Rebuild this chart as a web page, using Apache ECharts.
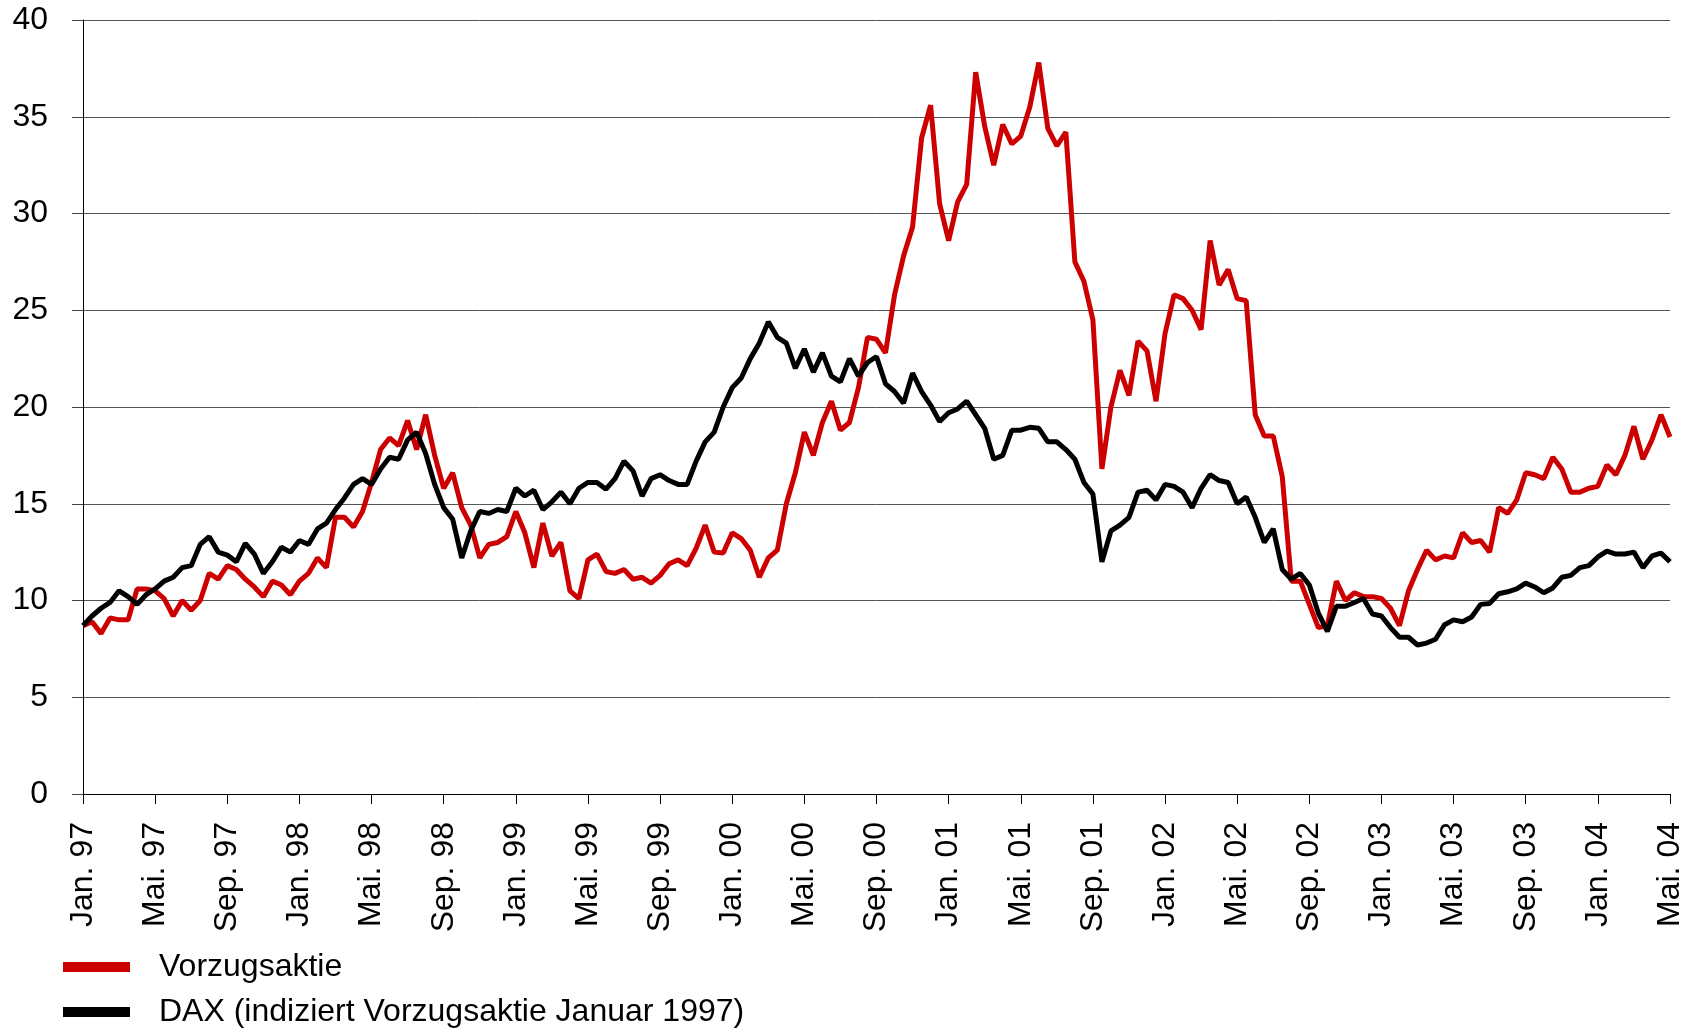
<!DOCTYPE html>
<html>
<head>
<meta charset="utf-8">
<title>Vorzugsaktie vs. DAX</title>
<script src="https://cdn.jsdelivr.net/npm/echarts@6/dist/echarts.min.js"></script>
<style>
  html, body { margin: 0; padding: 0; background: #fff; }
  #chart { width: 1689px; height: 1030px; }
</style>
</head>
<body>
<div id="chart"></div>
<script>
// Halbmonatswerte Jan. 97 bis Mai. 04 (177 Punkte)
var monthNames = ['Jan.', 'Feb.', 'Mär.', 'Apr.', 'Mai.', 'Jun.', 'Jul.', 'Aug.', 'Sep.', 'Okt.', 'Nov.', 'Dez.'];
var startYear = 1997;
var pointsPerMonth = 2;

var vorzug = [
  8.7, 8.9, 8.3, 9.1, 9.0, 9.0, 10.6, 10.6,
  10.5, 10.1, 9.2, 10.0, 9.5, 10.0, 11.4, 11.1,
  11.8, 11.6, 11.1, 10.7, 10.2, 11.0, 10.8, 10.3,
  11.0, 11.4, 12.2, 11.7, 14.3, 14.3, 13.8, 14.6,
  16.1, 17.8, 18.4, 18.0, 19.3, 17.8, 19.6, 17.5,
  15.8, 16.6, 14.8, 13.9, 12.2, 12.9, 13.0, 13.3,
  14.6, 13.5, 11.7, 14.0, 12.3, 13.0, 10.5, 10.1,
  12.1, 12.4, 11.5, 11.4, 11.6, 11.1, 11.2, 10.9,
  11.3, 11.9, 12.1, 11.8, 12.7, 13.9, 12.5, 12.45,
  13.5, 13.2, 12.6, 11.2, 12.2, 12.6, 15.0, 16.6,
  18.7, 17.5, 19.2, 20.3, 18.8, 19.2, 21.0, 23.6,
  23.5, 22.8, 25.8, 27.8, 29.3, 33.9, 35.6, 30.5,
  28.6, 30.6, 31.5, 37.3, 34.5, 32.5, 34.6, 33.6,
  34.0, 35.5, 37.8, 34.4, 33.5, 34.2, 27.5, 26.5,
  24.5, 16.8, 20.0, 21.9, 20.6, 23.4, 22.9, 20.3,
  23.8, 25.8, 25.6, 25.0, 24.0, 28.6, 26.3, 27.1,
  25.6, 25.5, 19.6, 18.5, 18.5, 16.4, 11.0, 11.0,
  9.8, 8.6, 8.7, 11.0, 10.0, 10.4, 10.2, 10.2,
  10.1, 9.6, 8.7, 10.5, 11.6, 12.6, 12.1, 12.3,
  12.2, 13.5, 13.0, 13.1, 12.5, 14.8, 14.5, 15.2,
  16.6, 16.5, 16.3, 17.4, 16.8, 15.6, 15.6, 15.8,
  15.9, 17.0, 16.5, 17.5, 19.0, 17.3, 18.3, 19.6,
  18.45
];

var dax = [
  8.7, 9.2, 9.6, 9.9, 10.5, 10.2, 9.8, 10.3,
  10.6, 11.0, 11.2, 11.7, 11.8, 12.9, 13.3, 12.5,
  12.35, 12.0, 12.95, 12.4, 11.4, 12.0, 12.75, 12.5,
  13.1, 12.9, 13.7, 14.0, 14.7, 15.3, 16.0, 16.3,
  16.0, 16.8, 17.4, 17.3, 18.3, 18.7, 17.6, 16.0,
  14.8, 14.2, 12.2, 13.6, 14.6, 14.5, 14.7, 14.6,
  15.8, 15.4, 15.7, 14.7, 15.1, 15.6, 15.0, 15.8,
  16.1, 16.1, 15.75, 16.3, 17.2, 16.7, 15.4, 16.3,
  16.5, 16.2, 16.0, 16.0, 17.2, 18.2, 18.7, 20.0,
  21.0, 21.5, 22.5, 23.3, 24.4, 23.6, 23.3, 22.0,
  23.0, 21.8, 22.8, 21.6, 21.3, 22.5, 21.6, 22.3,
  22.6, 21.2, 20.8, 20.2, 21.75, 20.8, 20.1, 19.25,
  19.7, 19.9, 20.3, 19.6, 18.9, 17.3, 17.5, 18.8,
  18.8, 18.95, 18.9, 18.2, 18.2, 17.8, 17.3, 16.1,
  15.5, 12.0, 13.6, 13.9, 14.3, 15.6, 15.7, 15.2,
  16.0, 15.9, 15.6, 14.8, 15.8, 16.5, 16.2, 16.1,
  15.0, 15.35, 14.3, 13.0, 13.7, 11.6, 11.1, 11.4,
  10.8, 9.35, 8.4, 9.7, 9.7, 9.9, 10.1, 9.3,
  9.2, 8.6, 8.1, 8.1, 7.7, 7.8, 8.0, 8.75,
  9.0, 8.9, 9.15, 9.8, 9.85, 10.35, 10.45, 10.6,
  10.9, 10.7, 10.4, 10.65, 11.2, 11.3, 11.7, 11.8,
  12.25, 12.55, 12.4, 12.4, 12.5, 11.7, 12.3, 12.45,
  12.0
];

var seriesNames = ['Vorzugsaktie', 'DAX (indiziert Vorzugsaktie Januar 1997)'];

// Kategorien: Monatsname + zweistelliges Jahr
var categories = [];
for (var i = 0; i < vorzug.length; i++) {
  var m = Math.floor(i / pointsPerMonth);
  var yy = String((startYear + Math.floor(m / 12)) % 100);
  if (yy.length < 2) yy = '0' + yy;
  categories.push(monthNames[m % 12] + ' ' + yy);
}

var font = 'Liberation Sans, Arial, sans-serif';
var chart = echarts.init(document.getElementById('chart'));

chart.setOption({
  animation: false,
  backgroundColor: '#fff',
  grid: { left: 83, right: 19, top: 20, bottom: 236, containLabel: false },
  legend: {
    orient: 'vertical',
    left: 63,
    top: 951,
    padding: 0,
    itemWidth: 67,
    itemHeight: 10,
    itemGap: 13,
    icon: 'rect',
    data: seriesNames,
    textStyle: { fontFamily: font, fontSize: 32, color: '#000', lineHeight: 32, padding: [0, 0, 0, 24] }
  },
  xAxis: {
    type: 'category',
    data: categories,
    boundaryGap: false,
    axisLine: { lineStyle: { color: '#000', width: 1 } },
    axisTick: { interval: 4 * pointsPerMonth - 1, length: 10, lineStyle: { color: '#000' } },
    axisLabel: {
      interval: 4 * pointsPerMonth - 1,
      rotate: 90,
      margin: 28,
      fontFamily: font,
      fontSize: 32,
      color: '#000'
    },
    splitLine: { show: false }
  },
  yAxis: {
    type: 'value',
    min: 0,
    max: 40,
    interval: 5,
    axisLine: { show: true, lineStyle: { color: '#000', width: 1 } },
    axisTick: { show: true, length: 11, lineStyle: { color: '#444' } },
    axisLabel: { margin: 35, fontFamily: font, fontSize: 32, color: '#000' },
    splitLine: { lineStyle: { color: '#555', width: 1 } }
  },
  series: [
    {
      name: seriesNames[0],
      type: 'line',
      data: vorzug,
      symbol: 'none',
      color: '#cc0000',
      lineStyle: { color: '#cc0000', width: 5 }
    },
    {
      name: seriesNames[1],
      type: 'line',
      data: dax,
      symbol: 'none',
      color: '#000',
      lineStyle: { color: '#000', width: 5 }
    }
  ]
});
</script>
</body>
</html>
